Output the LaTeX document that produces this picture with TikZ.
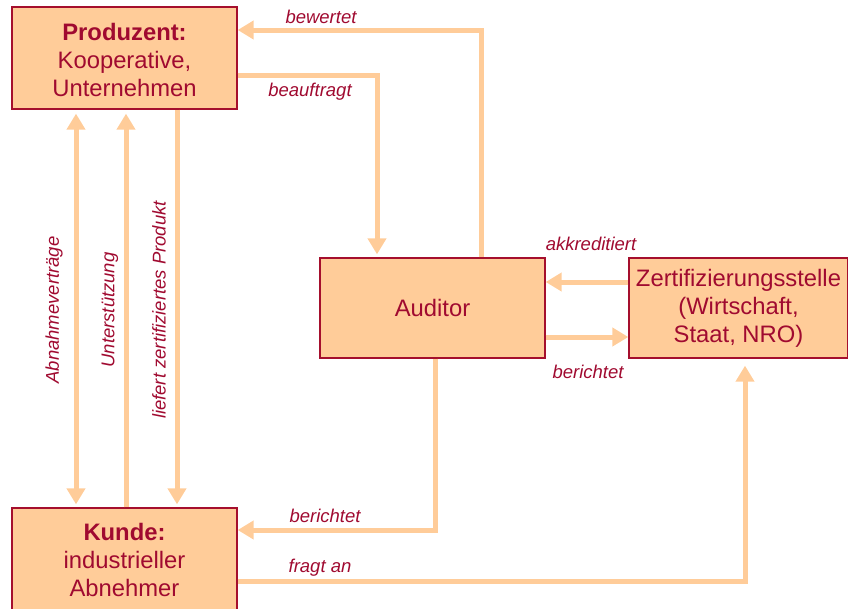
\documentclass[tikz,border=0pt]{standalone}
\usepackage{fontspec}
\setmainfont{Liberation Sans}
\usetikzlibrary{arrows.meta}
\definecolor{boxfill}{HTML}{FFCC99}
\definecolor{arrowcol}{HTML}{FFCC99}
\definecolor{boxline}{HTML}{A50F2D}
\definecolor{txt}{HTML}{A00A30}
\tikzset{
  box/.style={draw=boxline, line width=1.3pt, fill=boxfill, text=txt, align=center,
    font=\fontsize{23.8}{28}\selectfont, inner sep=0pt},
  conn/.style={draw=arrowcol, line width=5pt, line join=miter,
    -{Triangle[width=18pt,length=16pt]}},
  dconn/.style={draw=arrowcol, line width=5pt,
    {Triangle[width=18pt,length=16pt]}-{Triangle[width=18pt,length=16pt]}},
  lbl/.style={text=txt, font=\fontsize{18.5}{22}\selectfont\itshape, inner sep=0pt},
}
\begin{document}
\begin{tikzpicture}[x=1pt,y=-1pt]
\useasboundingbox (0,0) rectangle (848,608);
\node[box, minimum width=225pt, minimum height=102pt] (prod) at (124.5,58)
  {\rule{0pt}{22pt}\textbf{Produzent:}\\Kooperative,\\Unternehmen};
\node[box, minimum width=225pt, minimum height=100pt] (aud) at (432.5,308) {Auditor};
\node[box, minimum width=219pt, minimum height=100pt] (zert) at (738.5,308)
  {Zertifizierungsstelle\\(Wirtschaft,\\Staat, NRO)};
\node[box, minimum width=225pt, minimum height=104pt] (kunde) at (124.5,560)
  {\textbf{Kunde:}\\industrieller\\Abnehmer};

% connectors
\draw[conn] (aud.north -| 481,0) |- (prod.east |- 0,30);
\draw[conn, shorten >=3pt] (prod.east |- 0,75) -| (aud.north -| 377,0);
\draw[conn] (zert.west |- 0,282) -- (aud.east |- 0,282);
\draw[conn] (aud.east |- 0,337) -- (zert.west |- 0,337);
\draw[conn] (aud.south -| 435,0) |- (kunde.east |- 0,530);
\draw[conn, shorten >=7pt] (kunde.east |- 0,581) -| (zert.south -| 745,0);
\draw[dconn, shorten <=4pt, shorten >=3pt] (prod.south -| 76,0) -- (kunde.north -| 76,0);
\draw[conn, shorten >=4pt] (kunde.north -| 126,0) -- (prod.south -| 126,0);
\draw[conn, shorten >=3pt] (prod.south -| 177,0) -- (kunde.north -| 177,0);

% labels
\node[lbl] (l1) at (321,17) {bewertet};
\node[lbl] (l2) at (310,92) {beauftragt};
\node[lbl] (l3) at (591,244) {akkreditiert};
\node[lbl] (l4) at (588,372) {berichtet};
\node[lbl] (l5) at (325,516) {berichtet};
\node[lbl] (l6) at (320,568) {fragt an};
\node[lbl, rotate=90] (l7) at (54,310) {Abnahmeverträge};
\node[lbl, rotate=90] (l8) at (110,310) {Unterstützung};
\node[lbl, rotate=90] (l9) at (159,310) {liefert zertifiziertes Produkt};
\end{tikzpicture}
\end{document}
